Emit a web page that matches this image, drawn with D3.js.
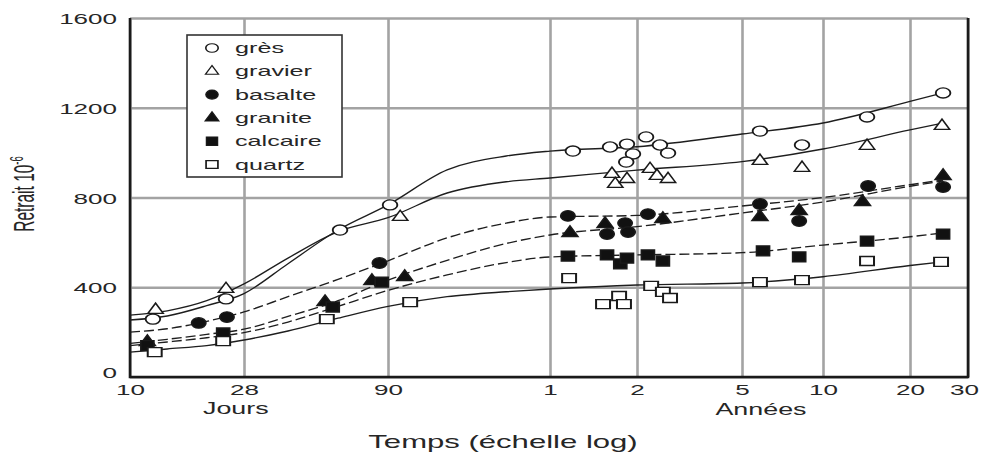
<!DOCTYPE html>
<html><head><meta charset="utf-8">
<script src="https://cdn.jsdelivr.net/npm/d3@7"></script>
<style>body{margin:0;background:#fff;} svg{display:block;font-family:"Liberation Sans",Arial,sans-serif;}</style>
</head><body><svg id="c" width="981" height="454"></svg>
<script>
// ---------- data ----------
const seriesNames = ["grès","gravier","basalte","granite","calcaire","quartz"];
const xTickDays = [10,28,90,365,730,1825,3650,7300,10950];
const xTickLabels = ["10","28","90","1","2","5","10","20","30"];
const yTicks = [0,400,800,1200,1600];

// measured points: [time in days, shrinkage 1e-6]
const gresPts = [[12.3,258],[23.8,348],[61,655],[91.6,767],[438,1007],[589,1025],[674,1038],[707,994],[670,958],[790,1070],[892,1034],[957,998],[2128,1096],[3050,1034],[5184,1159],[9200,1266]];
const gravierPts = [[12.6,299],[23.8,392],[100,713],[598,905],[614,860],[674,882],[818,927],[869,896],[957,882],[2128,963],[3050,932],[5184,1030],[9130,1119]];
const basaltePts = [[18.6,241],[24,267],[84,508],[421,718],[575,637],[664,686],[680,646],[803,726],[2128,771],[2977,695],[5228,851],[9200,847]];
const granitePts = [[11.7,156],[54,334],[79,428],[104,446],[428,642],[566,682],[915,704],[2128,713],[2977,740],[5000,780],[9200,896]];
const calcairePts = [[11.7,140],[23.2,196],[57.5,312],[85.5,423],[421,539],[575,544],[639,504],[674,530],[803,544],[915,517],[2185,562],[2977,535],[5184,606],[9200,637]];
const quartzPts = [[12.5,111],[23.2,160],[54.8,258],[109,334],[425,441],[557,325],[633,361],[658,325],[826,406],[915,379],[974,352],[2128,423],[3050,432],[5184,517],[9070,513]];

// fitted curves
const curveDays = [10,14,20,28,40,60,90,150,250,365,730,1825,3650,7300,9200];
const gresCurve     = [254,272,318,372,505,655,767,923,985,1007,1026,1083,1132,1228,1266];
const gravierCurve  = [276,295,340,415,530,648,710,820,870,887,922,960,1016,1101,1132];
const basalteCurve  = [200,215,248,290,358,435,518,620,686,713,720,762,800,857,878];
const graniteCurve  = [150,168,190,213,270,340,432,520,595,633,670,731,780,850,874];
const calcaireCurve = [140,156,175,198,245,315,386,455,510,535,544,554,588,625,642];
const quartzCurve   = [111,125,140,165,205,262,315,358,380,392,410,419,447,497,513];

// ---------- layout ----------
const L = 130, R = 968, T = 18, B = 377;
const SX = 1.68;
const ink = "#262626";
const svg = d3.select("#c");

const x = d3.scaleLog().domain(xTickDays).range([130,244,388,550,637,742,823,910,968]);
const y = d3.scaleLinear().domain([0,1600]).range([B,T]);

// gridlines + x labels
const gx = svg.append("g").attr("transform",`translate(0,${B})`)
  .call(d3.axisBottom(x).tickValues(xTickDays).tickSize(-(B-T)).tickFormat((d,i)=>xTickLabels[i]));
gx.select(".domain").remove();
gx.selectAll("line").attr("stroke","#a3a3a3").attr("stroke-width",2.6);
gx.selectAll("text").attr("y",18).attr("dy",0).attr("fill",ink)
  .attr("font-size",15.5).attr("font-family","Liberation Sans, Arial, sans-serif")
  .attr("x",(d,i)=>i===xTickDays.length-1?-4/SX:0)
  .attr("transform",`scale(${SX},1)`);

const gy = svg.append("g").attr("transform",`translate(${L},0)`)
  .call(d3.axisLeft(y).tickValues(yTicks).tickSize(-(R-L)).tickFormat(d3.format("d")));
gy.select(".domain").remove();
gy.selectAll("line").attr("stroke","#a3a3a3").attr("stroke-width",2.6);
gy.selectAll("text").attr("x",-13/SX).attr("dy",0).attr("y",d=>d===0?0:5.5)
  .attr("fill",ink).attr("font-size",15.5).attr("font-family","Liberation Sans, Arial, sans-serif")
  .attr("transform",`scale(${SX},1)`);

// frame
svg.append("path").attr("d",`M${L},${T}V${B}H${R}V${T}`).attr("fill","none")
  .attr("stroke","#1a1a1a").attr("stroke-width",2.6);

// curves
const line = d3.line().x(d=>x(d[0])).y(d=>y(d[1])).curve(d3.curveMonotoneX);
const curves = [
  [gresCurve,null],[gravierCurve,null],[basalteCurve,"10,4"],
  [graniteCurve,"10,4"],[calcaireCurve,"10,4"],[quartzCurve,null]
];
curves.forEach(([vals,dash])=>{
  svg.append("path").datum(curveDays.map((d,i)=>[d,vals[i]]))
    .attr("d",line).attr("fill","none").attr("stroke","#1e1e1e")
    .attr("stroke-width",1.35).attr("stroke-dasharray",dash);
});

// markers
const styles = [
  {type:d3.symbolCircle,size:80,sx:1.45,sy:1,fill:"#fff"},
  {type:d3.symbolTriangle,size:60,sx:1.3,sy:1,fill:"#fff"},
  {type:d3.symbolCircle,size:88,sx:1.35,sy:1,fill:"#111"},
  {type:d3.symbolTriangle,size:66,sx:1.3,sy:1,fill:"#111"},
  {type:d3.symbolSquare,size:100,sx:1.3,sy:1,fill:"#111"},
  {type:d3.symbolSquare,size:81,sx:1.55,sy:1,fill:"#fff"}
];
function marker(g, st, cx, cy, k){
  g.append("path").attr("d",d3.symbol().type(st.type).size(st.size)())
    .attr("transform",`translate(${cx},${cy}) scale(${st.sx*k},${st.sy*k})`)
    .attr("fill",st.fill).attr("stroke","#1a1a1a").attr("stroke-width",1.3);
}
const allPts = [gresPts,gravierPts,basaltePts,granitePts,calcairePts,quartzPts];
const mg = svg.append("g");
allPts.forEach((pts,si)=>pts.forEach(p=>marker(mg,styles[si],x(p[0]),y(p[1]),1)));

// legend
const lg = svg.append("g");
lg.append("rect").attr("x",187).attr("y",35).attr("width",155).attr("height",142)
  .attr("fill","#fff").attr("stroke","#333").attr("stroke-width",1.6);
seriesNames.forEach((n,i)=>{
  const cy = 48 + i*23.3;
  marker(lg, styles[i], 212, cy, 0.85);
  lg.append("text").attr("transform",`translate(235,${cy+5}) scale(${SX},1)`)
    .attr("font-size",15).attr("fill",ink).text(n);
});

// axis titles
svg.append("text").attr("transform",`translate(${x(26)},414) scale(${SX},1)`)
  .attr("text-anchor","middle").attr("font-size",16).attr("fill",ink).text("Jours");
svg.append("text").attr("transform",`translate(761,415) scale(${SX},1)`)
  .attr("text-anchor","middle").attr("font-size",16).attr("fill",ink).text("Années");
svg.append("text").attr("transform",`translate(503,448) scale(${SX},1)`)
  .attr("text-anchor","middle").attr("font-size",18.5).attr("fill",ink).text("Temps (échelle log)");
const yt = svg.append("text").attr("transform",`translate(34,194) scale(1.9,1) rotate(-90)`)
  .attr("text-anchor","middle").attr("font-size",15.5).attr("fill",ink);
yt.append("tspan").text("Retrait 10");
yt.append("tspan").attr("font-size",9.5).attr("dy",-6).text("-6");
</script></body></html>
